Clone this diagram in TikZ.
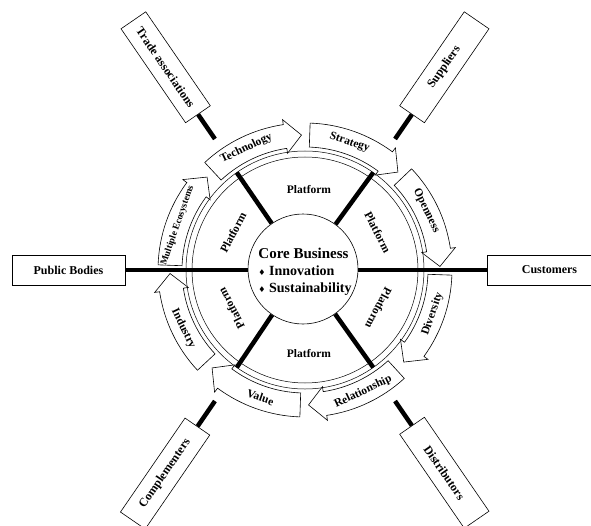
\documentclass[tikz,border=0pt]{standalone}
\usepackage{fontspec}
\setmainfont{Liberation Serif}
\newfontfamily\simbolos{DejaVu Sans}
\usepackage{tikz}
\usetikzlibrary{calc}
\tikzset{
  caja/.style={draw=black,fill=white,line width=0.6pt,minimum width=114pt,minimum height=30pt,inner sep=1pt,font=\fontsize{12}{14}\selectfont\bfseries},
  conector/.style={draw=black,line width=4.5pt},
  rayo/.style={draw=black,line width=4.5pt},
  anillo/.style={draw=black,line width=0.5pt},
  flecha/.style={draw=black,fill=white,line width=0.6pt,line join=miter},
  etiq/.style={font=\fontsize{11.5}{13}\selectfont\bfseries,inner sep=0pt},
  plat/.style={font=\fontsize{11.5}{13}\selectfont\bfseries,inner sep=0pt},
}
% curved block arrow: name, tail angle, tip angle, label
\newcommand{\arcoflecha}[4]{%
  \pgfmathsetmacro{\cabeza}{#3+7}%
  \pgfmathsetmacro{\medio}{(#2+#3+7)/2}%
  \pgfmathsetmacro{\giro}{\medio>0 ? \medio-90 : \medio+90}%
  \draw[flecha] (#2:123) arc[start angle=#2, end angle=\cabeza, radius=123] -- (\cabeza:118) -- (#3:135)
    -- (\cabeza:152) -- (\cabeza:147) arc[start angle=\cabeza, end angle=#2, radius=147] -- cycle;
  \node[etiq,rotate=\giro] (#1) at (\medio:135) {#4};%
}
\begin{document}
\begin{tikzpicture}[x=1pt,y=1pt]
  \path[use as bounding box,fill=white] (-305,-255) rectangle (286,270);
  % outer boxes
  \node[caja,minimum width=113pt] (publicos) at (-236.5,0) {Public Bodies};
  \node[caja,minimum width=125pt,anchor=west] (clientes) at (181.7,0) {Customers};
  \node[caja,rotate=-55.5] (comerciales) at (124.5:246) {Trade associations};
  \node[caja,rotate=55.5] (proveedores) at (55.5:246) {Suppliers};
  \node[caja,rotate=55.5] (complementadores) at (-124.5:247) {Complementers};
  \node[caja,rotate=-55.5] (distribuidores) at (-55.5:246) {Distributors};
  % connectors
  \draw[conector] (publicos) -- (clientes);
  \coordinate (k1) at (124.5:159); \coordinate (k2) at (55.5:159);
  \coordinate (k3) at (-124.5:159); \coordinate (k4) at (-55.5:159);
  \draw[conector] (k1) -- (comerciales);
  \draw[conector] (k2) -- (proveedores);
  \draw[conector] (k3) -- (complementadores);
  \draw[conector] (k4) -- (distribuidores);
  % platform ring
  \draw[anillo] (0,0) circle[radius=113];
  \draw[anillo] (0,0) circle[radius=119];
  % core
  \node[circle,draw=black,fill=white,line width=0.6pt,minimum size=110pt,inner sep=0pt] (nucleo) at (-2,1) {};
  \node[align=left,font=\fontsize{14}{17}\selectfont\bfseries,inner sep=0pt] (textonucleo) at (0,-2)
    {\fontsize{15}{17}\selectfont Core Business\\
     {\simbolos\fontsize{8}{17}\selectfont ♦} Innovation\\
     {\simbolos\fontsize{8}{17}\selectfont ♦} Sustainability};
  \coordinate (s1) at (55:119); \coordinate (s2) at (125:119);
  \coordinate (s3) at (-125:119); \coordinate (s4) at (-55:119);
  \draw[rayo] (s1) -- (nucleo); \draw[rayo] (s2) -- (nucleo);
  \draw[rayo] (s3) -- (nucleo); \draw[rayo] (s4) -- (nucleo);
  % platform labels
  \node[plat] (plat1) at (4,80) {Platform};
  \node[plat,rotate=-62.5] (plat2) at (27.5:82) {Platform};
  \node[plat,rotate=-117.5] (plat3) at (-27.5:83) {Platform};
  \node[plat] (plat4) at (4,-84) {Platform};
  \node[plat,rotate=117.5] (plat5) at (-152.5:83) {Platform};
  \node[plat,rotate=62.5] (plat6) at (152.5:81) {Platform};
  % curved arrows
  \arcoflecha{tecnologia}{133}{91.5}{Technology}
  \arcoflecha{estrategia}{88}{46.5}{Strategy}
  \arcoflecha{apertura}{43.5}{1.5}{Openness}
  \arcoflecha{diversidad}{-2}{-43}{Diversity}
  \arcoflecha{relacion}{-47.5}{-88.5}{Relationship}
  \arcoflecha{valor}{-92}{-133.5}{Value}
  \arcoflecha{industria}{-137}{-178.5}{Industry}
  \arcoflecha{ecosistemas}{178}{136.5}{\fontsize{9.5}{10}\selectfont Multiple Ecosystems}
\end{tikzpicture}
\end{document}
